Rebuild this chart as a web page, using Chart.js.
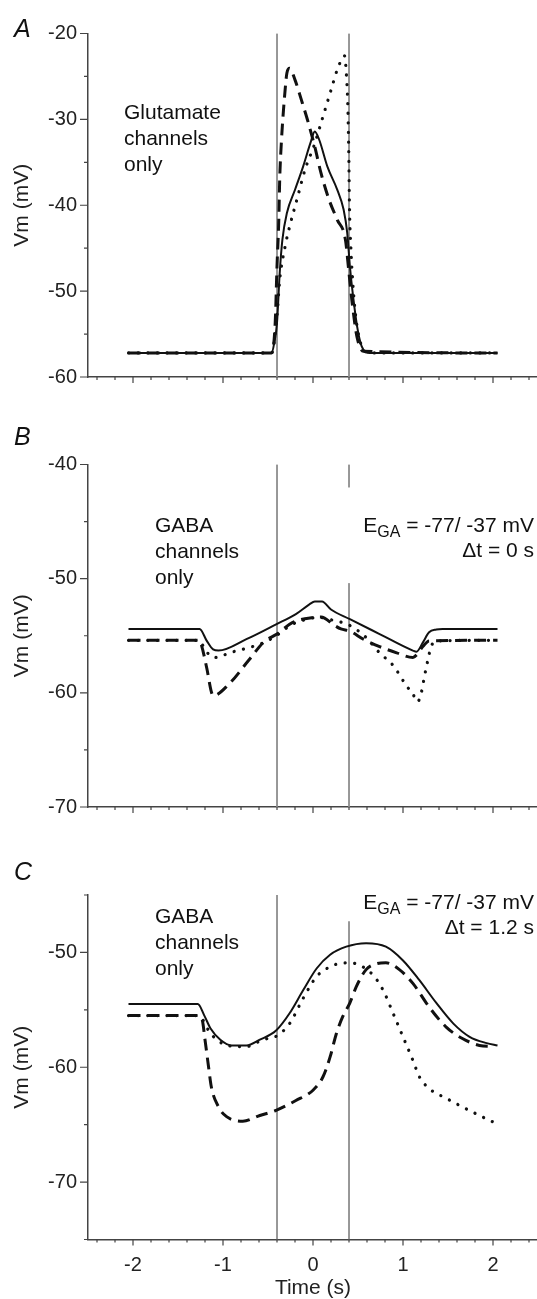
<!DOCTYPE html>
<html>
<head>
<meta charset="utf-8">
<script src="https://cdn.jsdelivr.net/npm/chart.js@4.4.1/dist/chart.umd.min.js"></script>
<style>
  html, body { margin: 0; padding: 0; background: #fff; overflow: hidden; }
  canvas { position: absolute; left: 0; }
</style>
</head>
<body>
<canvas id="chartA" width="538" height="400" style="top:0px"></canvas>
<canvas id="chartB" width="538" height="410" style="top:420px"></canvas>
<canvas id="chartC" width="538" height="449" style="top:850px"></canvas>
<script>
  // Time axis ticks (s)
  const timeTicks = [-2, -1, 0, 1, 2]
  const timeMinor = [-2.4, -2.2, -1.8, -1.6, -1.4, -1.2, -0.8, -0.6, -0.4, -0.2,
                     0.2, 0.4, 0.6, 0.8, 1.2, 1.4, 1.6, 1.8, 2.2, 2.4]

  // Vm ticks (mV)
  const vmTicksA = [-60, -50, -40, -30, -20]
  const vmMinorA = [-55, -45, -35, -25]
  const vmTicksB = [-70, -60, -50, -40]
  const vmMinorB = [-65, -55, -45]
  const vmTicksC = [-70, -60, -50]
  const vmMinorC = [-75, -65, -55, -45]

  // Stimulus window markers (s)
  const windowStart = -0.4
  const windowEnd = 0.4

  // Panel A: glutamate channels only
  const solidA_t = [-2.05, -0.46, -0.43, -0.40, -0.37, -0.34, -0.29, -0.2, -0.11, -0.03, 0.02, 0.07, 0.16, 0.27, 0.34, 0.38, 0.41, 0.45, 0.49, 0.54, 0.63, 2.05]
  const solidA_v = [-57.2, -57.2, -56.0, -53.7, -47.9, -44.0, -40.9, -38.2, -35.5, -32.8, -31.4, -32.4, -35.5, -38.2, -40.5, -43.2, -47.1, -51.0, -54.1, -56.4, -57.2, -57.2]
  const dashedA_t = [-2.05, -0.46, -0.42, -0.40, -0.38, -0.37, -0.35, -0.31, -0.29, -0.26, -0.2, -0.13, -0.06, 0.02, 0.09, 0.18, 0.27, 0.36, 0.40, 0.44, 0.49, 0.56, 2.05]
  const dashedA_v = [-57.2, -57.2, -53.7, -47.1, -41.7, -37.0, -32.4, -26.6, -24.6, -24.05, -25.4, -27.7, -30.1, -33.2, -36.3, -39.4, -41.7, -44.0, -47.9, -51.8, -55.4, -57.0, -57.2]
  const dottedA_t = [-2.05, -0.46, -0.40, -0.37, -0.31, -0.26, -0.17, -0.09, 0.02, 0.11, 0.20, 0.27, 0.33, 0.35, 0.365, 0.387, 0.398, 0.405, 0.42, 0.44, 0.47, 0.51, 0.56, 0.63, 2.05]
  const dottedA_v = [-57.2, -57.2, -52.9, -48.7, -44.8, -42.5, -39.0, -35.9, -32.8, -29.7, -26.6, -24.2, -22.8, -22.6, -23.9, -28.5, -34.3, -40.1, -44.8, -48.7, -52.5, -55.3, -56.8, -57.2, -57.2]

  // Panel B: GABA channels only, dt = 0 s
  const solidB_t = [-2.05, -1.26, -1.18, -1.11, -1.05, -0.74, -0.41, -0.19, -0.04, 0.02, 0.1, 0.2, 0.41, 0.74, 1.11, 1.15, 1.22, 1.29, 1.37, 1.44, 2.05]
  const solidB_v = [-54.4, -54.4, -55.45, -56.2, -56.3, -55.3, -54.0, -53.1, -52.25, -52.0, -52.0, -52.7, -53.55, -54.85, -56.3, -56.4, -55.6, -54.7, -54.45, -54.4, -54.4]
  const dashedB_t = [-2.05, -1.26, -1.24, -1.18, -1.13, -1.11, -0.93, -0.71, -0.54, -0.41, -0.23, 0.0, 0.09, 0.24, 0.31, 0.41, 0.56, 0.74, 0.93, 1.11, 1.16, 1.22, 1.29, 2.05]
  const dashedB_v = [-55.4, -55.4, -55.8, -57.85, -59.9, -60.25, -59.2, -57.1, -55.5, -54.9, -53.85, -53.4, -53.35, -54.1, -54.4, -54.6, -55.3, -55.95, -56.5, -56.9, -56.6, -55.95, -55.45, -55.4]
  const dottedB_t = [-2.05, -1.26, -1.22, -1.15, -1.07, -0.93, -0.74, -0.56, -0.41, -0.23, -0.04, 0.07, 0.2, 0.41, 0.59, 0.74, 0.89, 1.04, 1.11, 1.16, 1.2, 1.24, 1.28, 1.31, 1.37, 2.05]
  const dottedB_v = [-55.4, -55.4, -55.9, -56.7, -56.9, -56.5, -56.1, -55.65, -55.0, -54.0, -53.5, -53.4, -53.6, -54.1, -55.15, -56.5, -57.6, -59.4, -60.1, -60.8, -60.1, -58.5, -57.0, -56.0, -55.45, -55.4]

  // Panel C: GABA channels only, dt = 1.2 s
  const solidC_t = [-2.05, -1.28, -1.21, -1.14, -1.03, -0.9, -0.74, -0.59, -0.41, -0.26, -0.11, 0.04, 0.19, 0.37, 0.59, 0.81, 1.0, 1.18, 1.37, 1.56, 1.74, 1.93, 2.05]
  const solidC_v = [-54.5, -54.5, -55.46, -56.6, -57.6, -58.1, -58.1, -57.6, -56.8, -55.3, -53.3, -51.4, -50.2, -49.5, -49.2, -49.5, -50.7, -52.4, -54.4, -56.2, -57.35, -57.9, -58.1]
  const dashedC_t = [-2.05, -1.28, -1.23, -1.2, -1.16, -1.13, -1.05, -0.96, -0.78, -0.59, -0.41, -0.19, 0.0, 0.11, 0.19, 0.26, 0.33, 0.41, 0.48, 0.59, 0.7, 0.81, 0.96, 1.11, 1.29, 1.48, 1.66, 1.85, 2.0]
  const dashedC_v = [-55.5, -55.5, -55.9, -57.6, -60.0, -61.7, -63.45, -64.3, -64.7, -64.2, -63.75, -62.9, -62.0, -60.85, -59.1, -57.06, -55.6, -54.4, -53.0, -51.5, -51.0, -50.9, -51.5, -52.7, -54.75, -56.5, -57.5, -58.1, -58.2]
  const dottedC_t = [-2.05, -1.28, -1.23, -1.16, -1.07, -0.92, -0.74, -0.56, -0.41, -0.26, -0.11, 0.04, 0.19, 0.3, 0.41, 0.54, 0.67, 0.78, 0.89, 1.0, 1.11, 1.18, 1.29, 1.48, 1.66, 1.85, 2.01]
  const dottedC_v = [-55.5, -55.5, -55.8, -56.8, -57.6, -58.15, -58.2, -57.6, -57.3, -56.2, -54.0, -52.1, -51.25, -50.95, -50.9, -51.2, -52.0, -53.3, -55.3, -57.35, -59.4, -60.8, -61.85, -62.7, -63.45, -64.2, -64.8]

  const INK = "#111"
  const AXIS = "#444"
  const FONT = "'Liberation Sans', Arial, sans-serif"

  const SOLID = { borderColor: INK, borderWidth: 2, pointRadius: 0, cubicInterpolationMode: "monotone" }
  const DASHED = { borderColor: INK, borderWidth: 3, borderDash: [12, 7], pointRadius: 0, cubicInterpolationMode: "monotone" }
  const DOTTED = { borderColor: INK, borderWidth: 3.2, borderDash: [0.1, 9.5], borderCapStyle: "round", pointRadius: 0, cubicInterpolationMode: "monotone" }
  const MARKER = { borderColor: "#8a8a8a", borderWidth: 1, pointRadius: 0 }

  function trace(t, v, style) {
    return { data: t.map((x, i) => ({ x: x, y: v[i] })), ...style }
  }
  function marker(x, y0, y1) {
    return { data: [{ x: x, y: y0 }, { x: x, y: y1 }], ...MARKER }
  }

  // minor + major tick marks drawn through the scales
  const tickMarks = {
    id: "tickMarks",
    afterDraw(chart, args, opts) {
      const { ctx, chartArea } = chart
      const xs = chart.scales.x, ys = chart.scales.y
      ctx.save()
      ctx.strokeStyle = AXIS
      ctx.lineWidth = 1.2
      ctx.beginPath()
      opts.yMajor.forEach(v => { const p = ys.getPixelForValue(v); ctx.moveTo(chartArea.left - 8, p); ctx.lineTo(chartArea.left, p) })
      opts.yMinor.forEach(v => { const p = ys.getPixelForValue(v); ctx.moveTo(chartArea.left - 4, p); ctx.lineTo(chartArea.left, p) })
      timeTicks.forEach(v => { const p = xs.getPixelForValue(v); ctx.moveTo(p, chartArea.bottom); ctx.lineTo(p, chartArea.bottom + 6) })
      timeMinor.forEach(v => { const p = xs.getPixelForValue(v); ctx.moveTo(p, chartArea.bottom); ctx.lineTo(p, chartArea.bottom + 3) })
      ctx.stroke()
      ctx.restore()
    }
  }

  // panel letter and text notes
  const notes = {
    id: "notes",
    afterDraw(chart, args, opts) {
      const ctx = chart.ctx
      ctx.save()
      ctx.fillStyle = INK
      ctx.textBaseline = "alphabetic"
      ctx.textAlign = "left"
      ctx.font = "italic 25px " + FONT
      ctx.fillText(opts.letter, 14, opts.letterY)
      ctx.font = "21px " + FONT
      opts.lines.forEach((t, i) => ctx.fillText(t, opts.textX, opts.textY + i * 26))
      if (opts.dt) {
        const big = "21px " + FONT, small = "16px " + FONT
        const rest = " = -77/ -37 mV"
        ctx.font = big
        const wE = ctx.measureText("E").width
        const wRest = ctx.measureText(rest).width
        ctx.font = small
        const wSub = ctx.measureText("GA").width
        const x0 = 534 - (wE + wSub + wRest)
        const y = opts.egaY
        ctx.font = big
        ctx.fillText("E", x0, y)
        ctx.font = small
        ctx.fillText("GA", x0 + wE, y + 5)
        ctx.font = big
        ctx.fillText(rest, x0 + wE + wSub, y)
        ctx.textAlign = "right"
        ctx.fillText(opts.dt, 534, y + 25)
      }
      ctx.restore()
    }
  }

  function makeChart(id, cfg) {
    return new Chart(document.getElementById(id), {
      type: "line",
      data: { datasets: cfg.datasets },
      options: {
        responsive: false,
        animation: false,
        events: [],
        layout: { padding: { top: cfg.padTop, left: 0, right: 0, bottom: 0 } },
        plugins: {
          legend: { display: false },
          tooltip: { enabled: false },
          tickMarks: { yMajor: cfg.yTicks, yMinor: cfg.yMinor },
          notes: cfg.notes
        },
        scales: {
          x: {
            type: "linear",
            min: -2.5,
            max: 2.5,
            afterBuildTicks: s => { s.ticks = timeTicks.map(v => ({ value: v })) },
            afterFit: s => { s.height = cfg.xHeight },
            grid: { display: false, drawTicks: false },
            border: { display: true, color: AXIS, width: 1.5 },
            ticks: { display: cfg.showTime, padding: 14, color: "#222", font: { family: FONT, size: 20 } },
            title: { display: cfg.showTime, text: "Time (s)", color: "#222", padding: { top: 0, bottom: 0 }, font: { family: FONT, size: 21, lineHeight: 1 } }
          },
          y: {
            type: "linear",
            min: cfg.yMin,
            max: cfg.yMax,
            afterBuildTicks: s => { s.ticks = cfg.yTicks.map(v => ({ value: v })) },
            afterFit: s => { s.width = 88 },
            grid: { display: false, drawTicks: false },
            border: { display: true, color: AXIS, width: 1.5 },
            ticks: { padding: 11, color: "#222", font: { family: FONT, size: 20 } },
            title: { display: true, text: "Vm (mV)", color: "#222", padding: { top: 10, bottom: 0 }, font: { family: FONT, size: 21 } }
          }
        }
      },
      plugins: [tickMarks, notes]
    })
  }

  makeChart("chartA", {
    padTop: 33.5, xHeight: 22.5, showTime: false,
    yMin: -60, yMax: -20, yTicks: vmTicksA, yMinor: vmMinorA,
    notes: { letter: "A", letterY: 36.7, lines: ["Glutamate", "channels", "only"], textX: 124, textY: 119 },
    datasets: [
      trace(solidA_t, solidA_v, SOLID),
      trace(dashedA_t, dashedA_v, DASHED),
      trace(dottedA_t, dottedA_v, DOTTED),
      marker(windowStart, -20, -60),
      marker(windowEnd, -20, -60)
    ]
  })

  makeChart("chartB", {
    padTop: 44.5, xHeight: 21.5, showTime: false,
    yMin: -70, yMax: -40, yTicks: vmTicksB, yMinor: vmMinorB,
    notes: { letter: "B", letterY: 25, lines: ["GABA", "channels", "only"], textX: 155, textY: 111.5, egaY: 111.5, dt: "\u0394t = 0 s" },
    datasets: [
      trace(solidB_t, solidB_v, SOLID),
      trace(dashedB_t, dashedB_v, DASHED),
      trace(dottedB_t, dottedB_v, DOTTED),
      marker(windowStart, -40, -70),
      marker(windowEnd, -40, -42),
      marker(windowEnd, -50.4, -70)
    ]
  })

  makeChart("chartC", {
    padTop: 45, xHeight: 59.5, showTime: true,
    yMin: -75, yMax: -45, yTicks: vmTicksC, yMinor: vmMinorC,
    notes: { letter: "C", letterY: 30, lines: ["GABA", "channels", "only"], textX: 155, textY: 73, egaY: 59, dt: "\u0394t = 1.2 s" },
    datasets: [
      trace(solidC_t, solidC_v, SOLID),
      trace(dashedC_t, dashedC_v, DASHED),
      trace(dottedC_t, dottedC_v, DOTTED),
      marker(windowStart, -45, -75),
      marker(windowEnd, -47.3, -75)
    ]
  })
</script>
</body>
</html>
